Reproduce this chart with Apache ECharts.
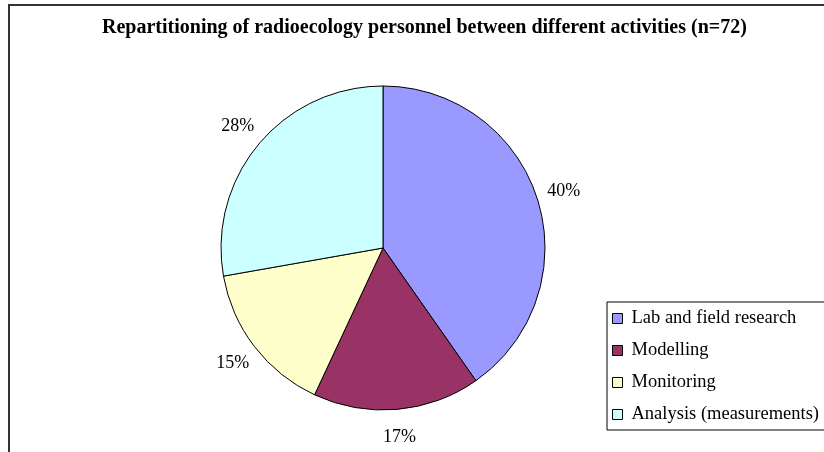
<!DOCTYPE html>
<html>
<head>
<meta charset="utf-8">
<script src="https://cdn.jsdelivr.net/npm/echarts@6/dist/echarts.min.js"></script>
<style>
  html, body { margin: 0; padding: 0; background: #fff; }
  #chart { width: 824px; height: 452px; }
</style>
</head>
<body>
<div id="chart"></div>
<script>
// personnel counts per activity (n=72)
const categories = ['Lab and field research', 'Modelling', 'Monitoring', 'Analysis (measurements)'];
const counts = [29, 12, 11, 20];
const colors = ['#9999FF', '#993366', '#FFFFCC', '#CCFFFF'];
const titleText = 'Repartitioning of radioecology personnel between different activities (n=72)';

const myChart = echarts.init(document.getElementById('chart'));
const serif = '"Liberation Serif", "Times New Roman", serif';
const pieData = categories.map((name, i) => ({ name: name, value: counts[i] }));

let option = {
    animation: false,
    color: colors,
    graphic: [
        {// outer chart frame, cut by the window at right and bottom
            type: 'rect',
            shape: { x: 9, y: 5, width: 830, height: 460 },
            style: { fill: null, stroke: '#333', lineWidth: 2 }
        }
    ],
    title: {
        text: titleText,
        left: 97,
        top: 13,
        textStyle: {
            fontFamily: serif,
            fontWeight: 'bold',
            fontSize: 20,
            color: '#000'
        }
    },
    legend: {
        orient: 'vertical',
        left: 607,
        top: 302,
        padding: [7, 12, 6, 5],
        itemGap: 13,
        itemWidth: 10,
        itemHeight: 10,
        icon: 'rect',
        borderColor: '#000',
        borderWidth: 1,
        itemStyle: { borderColor: '#000', borderWidth: 1 },
        textStyle: {
            fontFamily: serif,
            fontSize: 18.5,
            lineHeight: 18,
            color: '#000',
            padding: [0, 0, 0, 4]
        },
        data: categories
    },
    series: [
        {
            type: 'pie',
            center: [383, 248],
            radius: 162,
            startAngle: 90,
            clockwise: true,
            itemStyle: { borderColor: '#000', borderWidth: 1 },
            label: { show: false },
            labelLine: { show: false },
            emphasis: { disabled: true },
            data: pieData
        },
        {// invisible ring: only carries the percent labels, centred ~25px outside the pie
            type: 'pie',
            center: [383, 248],
            radius: [162, 211],
            startAngle: 90,
            clockwise: true,
            silent: true,
            legendHoverLink: false,
            percentPrecision: 0,
            itemStyle: { color: 'rgba(0,0,0,0)', borderWidth: 0 },
            label: {
                show: true,
                position: 'inside',
                formatter: '{d}%',
                fontFamily: serif,
                fontSize: 18,
                color: '#000'
            },
            labelLine: { show: false },
            emphasis: { disabled: true },
            data: pieData
        }
    ]
};
myChart.setOption(option);
</script>
</body>
</html>
